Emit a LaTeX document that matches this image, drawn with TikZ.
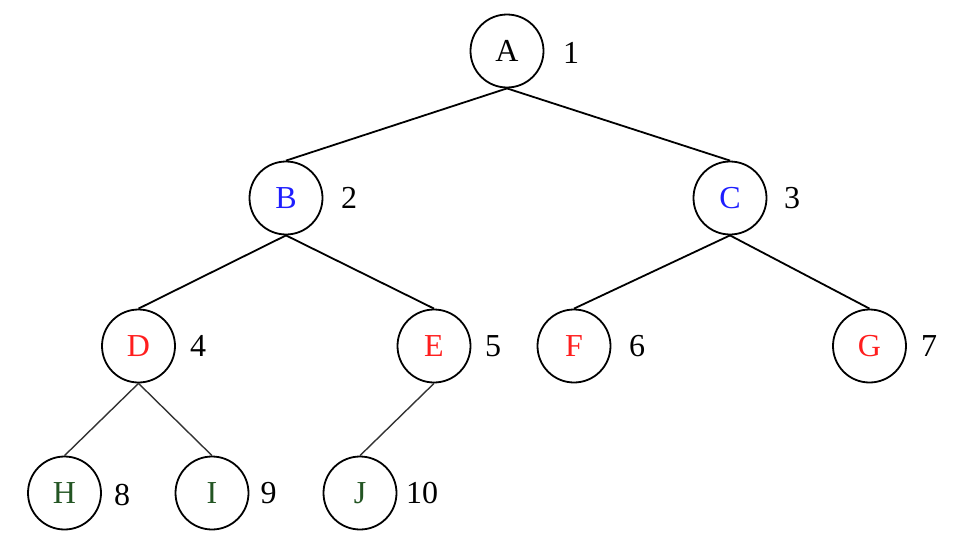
\documentclass[tikz,border=0pt]{standalone}
\usepackage{fontspec}
\setmainfont{Liberation Serif}
\definecolor{nblue}{RGB}{30,30,255}
\definecolor{nred}{RGB}{255,30,30}
\definecolor{ngreen}{RGB}{35,85,35}
\begin{document}
\begin{tikzpicture}[x=1pt,y=-1pt,
  tnode/.style={circle,draw,line width=1.8pt,minimum size=73pt,inner sep=0pt,font=\fontsize{32}{38}\selectfont},
  tnum/.style={inner sep=0pt,font=\fontsize{32}{38}\selectfont},
  tedge/.style={line width=1.8pt},
  ledge/.style={line width=1.4pt,black!80}]
\useasboundingbox (0,0) rectangle (962,538);
\node[tnode] (A) at (507,51) {A};
\node[tnode,text=nblue] (B) at (286,198) {B};
\node[tnode,text=nblue] (C) at (730,198) {C};
\node[tnode,text=nred] (D) at (138.5,346) {D};
\node[tnode,text=nred] (E) at (434,346) {E};
\node[tnode,text=nred] (F) at (574,346) {F};
\node[tnode,text=nred] (G) at (869.5,346) {G};
\node[tnode,text=ngreen] (H) at (64.5,493) {H};
\node[tnode,text=ngreen] (I) at (212,493) {I};
\node[tnode,text=ngreen] (J) at (360,493) {J};
\node[tnum] (n1) at (571,53) {1};
\node[tnum] (n2) at (349,198) {2};
\node[tnum] (n3) at (792,198) {3};
\node[tnum] (n4) at (198,346) {4};
\node[tnum] (n5) at (493,346) {5};
\node[tnum] (n6) at (637,346) {6};
\node[tnum] (n7) at (929,346) {7};
\node[tnum] (n8) at (122,495) {8};
\node[tnum] (n9) at (268.5,493) {9};
\node[tnum] (n10) at (422,493) {10};
\draw[tedge] (A.south) -- (B.north);
\draw[tedge] (A.south) -- (C.north);
\draw[tedge] (B.south) -- (D.north);
\draw[tedge] (B.south) -- (E.north);
\draw[tedge] (C.south) -- (F.north);
\draw[tedge] (C.south) -- (G.north);
\draw[ledge] (D.south) -- (H.north);
\draw[ledge] (D.south) -- (I.north);
\draw[ledge] (E.south) -- (J.north);
\end{tikzpicture}
\end{document}
